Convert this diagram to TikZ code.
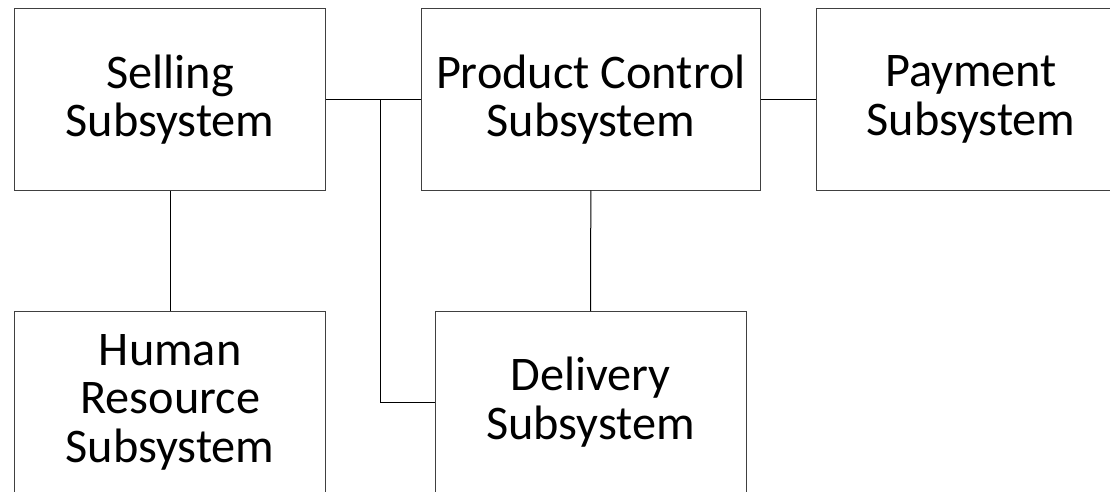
\documentclass[tikz,border=0pt]{standalone}
\usepackage{fontspec}
\setmainfont{Carlito}
\begin{document}
\begin{tikzpicture}[x=1pt,y=-1pt,
  sysbox/.style={draw=black!75,line width=1pt,rectangle,inner sep=0pt,
    minimum height=181pt,align=center,
    font=\fontsize{48.3}{48.5}\selectfont},
  link/.style={draw=black,line width=1pt}]
\clip (0,0) rectangle (1110,492);
\fill[white] (0,0) rectangle (1110,492);
\node[sysbox,minimum width=311pt] (sell) at (170.2,99.5) {Selling\\Subsystem};
\node[sysbox,minimum width=338.3pt] (prod) at (590.85,99.5) {Product Control\\Subsystem};
\node[sysbox,minimum width=310pt] (pay) at (971,99.5) {Payment\\Subsystem};
\node[sysbox,minimum width=311pt] (hr) at (170.2,402.2) {Human\\Resource\\Subsystem};
\node[sysbox,minimum width=311pt] (del) at (590.5,402.2) {Delivery\\Subsystem};
\coordinate (j) at (380.5,99.5);
\draw[link] (sell.east) -- (prod.west);
\draw[link] (prod.east) -- (pay.west);
\draw[link] (sell.south) -- (hr.north);
\draw[link] (prod.south) -- (del.north);
\draw[link] (j) |- (del.west);
\end{tikzpicture}
\end{document}
